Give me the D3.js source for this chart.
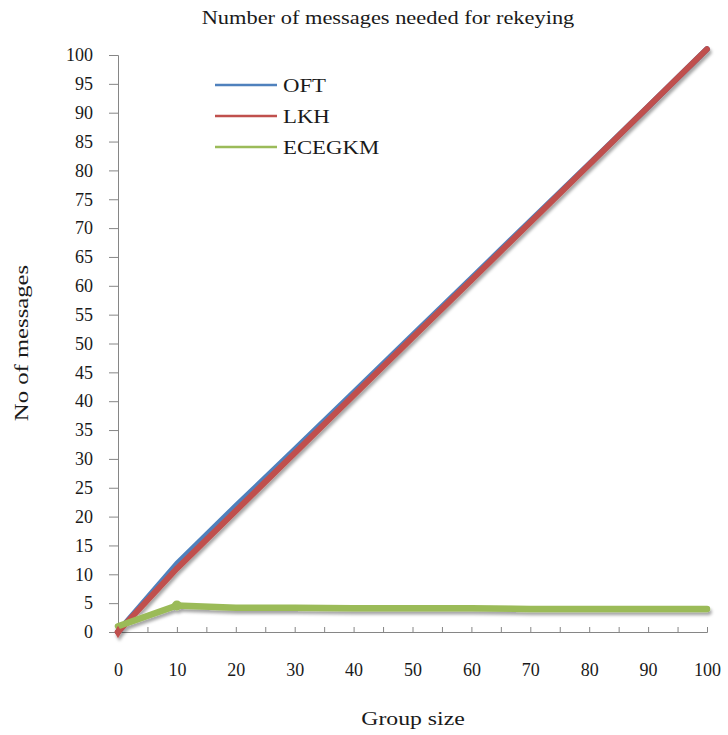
<!DOCTYPE html>
<html>
<head>
<meta charset="utf-8">
<script src="https://cdn.jsdelivr.net/npm/d3@7"></script>
<style>
  html, body { margin: 0; padding: 0; background: #fff; }
  svg text { font-family: "Liberation Serif", "Times New Roman", serif; fill: #1a1a1a; }
</style>
</head>
<body>
<svg id="chart" width="728" height="735"></svg>
<script>
// Group sizes and number of rekeying messages for each scheme
const groupSizes = [0, 10, 20, 30, 40, 50, 60, 70, 80, 90, 100];
const oftValues    = [0, 11.8, 21.8, 31.6, 41.5, 51.4, 61.3, 71.2, 81.1, 91, 101];
const lkhValues    = [0, 11, 21, 31, 41, 51, 61, 71, 81, 91, 101];
const ecegkmValues = [1, 4.6, 4.2, 4.2, 4.1, 4.1, 4.1, 4.0, 4.0, 4.0, 4.0];

const seriesNames  = ["OFT", "LKH", "ECEGKM"];
const seriesColors = ["#4F81BD", "#C0504D", "#9BBB59"];
const xTicks = [0, 10, 20, 30, 40, 50, 60, 70, 80, 90, 100];
const yTicks = d3.range(0, 101, 5);

const svg = d3.select("#chart");
const margin = { left: 118, right: 21, top: 55, bottom: 103 };
const W = 728, H = 735;

const x = d3.scaleLinear().domain([0, 100]).range([margin.left, W - margin.right]);
const y = d3.scaleLinear().domain([0, 100]).range([H - margin.bottom, margin.top]);

// soft drop shadow under the series lines
const defs = svg.append("defs");
const f = defs.append("filter").attr("id", "shadow")
  .attr("x", "-10%").attr("y", "-10%").attr("width", "120%").attr("height", "120%");
f.append("feDropShadow").attr("dx", 1.5).attr("dy", 3).attr("stdDeviation", 1.8)
  .attr("flood-color", "#000").attr("flood-opacity", 0.35);

// text is drawn slightly widened, like the original typeface
const widen = (sel, cx, cy, s) => sel.attr("transform",
  `translate(${cx},${cy}) scale(${s},1)`);

// title
widen(svg.append("text").attr("text-anchor", "middle")
  .style("font-size", "19px").text("Number of messages needed for rekeying"), 388, 24, 1.18);

// y axis
const yAxis = svg.append("g").attr("transform", `translate(${margin.left},0)`)
  .call(d3.axisLeft(y).tickValues(yTicks).tickSize(9).tickPadding(16));
// x axis
const xAxis = svg.append("g").attr("transform", `translate(0,${y(0)})`)
  .call(d3.axisBottom(x).tickValues(d3.range(0, 101, 5)).tickSize(-5).tickPadding(31)
    .tickFormat(d => xTicks.includes(d) ? d : ""));
[yAxis, xAxis].forEach(g => {
  g.select(".domain").attr("stroke", "#868686");
  g.selectAll(".tick line").attr("stroke", "#868686");
  g.selectAll(".tick text").style("font-size", "18px").attr("fill", "#1a1a1a")
    .style("font-family", "\"Liberation Serif\", serif");
});

// axis titles
widen(svg.append("text").attr("text-anchor", "middle")
  .style("font-size", "19px").text("Group size"), 413, 725, 1.25);
svg.append("text").attr("transform", "translate(28,343) rotate(-90) scale(1.3,1)")
  .attr("text-anchor", "middle").style("font-size", "19px").text("No of messages");

// series lines
const series = [oftValues, lkhValues, ecegkmValues];
const line = d3.line().x((d, i) => x(groupSizes[i])).y(d => y(d));
const plot = svg.append("g").attr("filter", "url(#shadow)");
series.forEach((vals, k) => {
  plot.append("path").datum(vals).attr("d", line)
    .attr("fill", "none").attr("stroke", seriesColors[k])
    .attr("stroke-width", k === 2 ? 6.5 : 6).attr("stroke-linecap", "round").attr("stroke-linejoin", "round");
});
// point markers visible at the start of the curves
plot.append("circle").attr("cx", x(groupSizes[1])).attr("cy", y(ecegkmValues[1]))
  .attr("r", 5).attr("fill", seriesColors[2]);
plot.append("path").attr("d", d3.symbol(d3.symbolDiamond, 45)())
  .attr("transform", `translate(${x(groupSizes[0])},${y(lkhValues[0])})`)
  .attr("fill", seriesColors[1]);

// legend
const lg = svg.append("g");
seriesNames.forEach((name, k) => {
  const ly = 85 + k * 31;
  lg.append("line").attr("x1", 215).attr("x2", 277).attr("y1", ly).attr("y2", ly)
    .attr("stroke", seriesColors[k]).attr("stroke-width", 2.5);
  widen(lg.append("text").style("font-size", "19px").text(name), 283, ly + 7, 1.2);
});
</script>
</body>
</html>
